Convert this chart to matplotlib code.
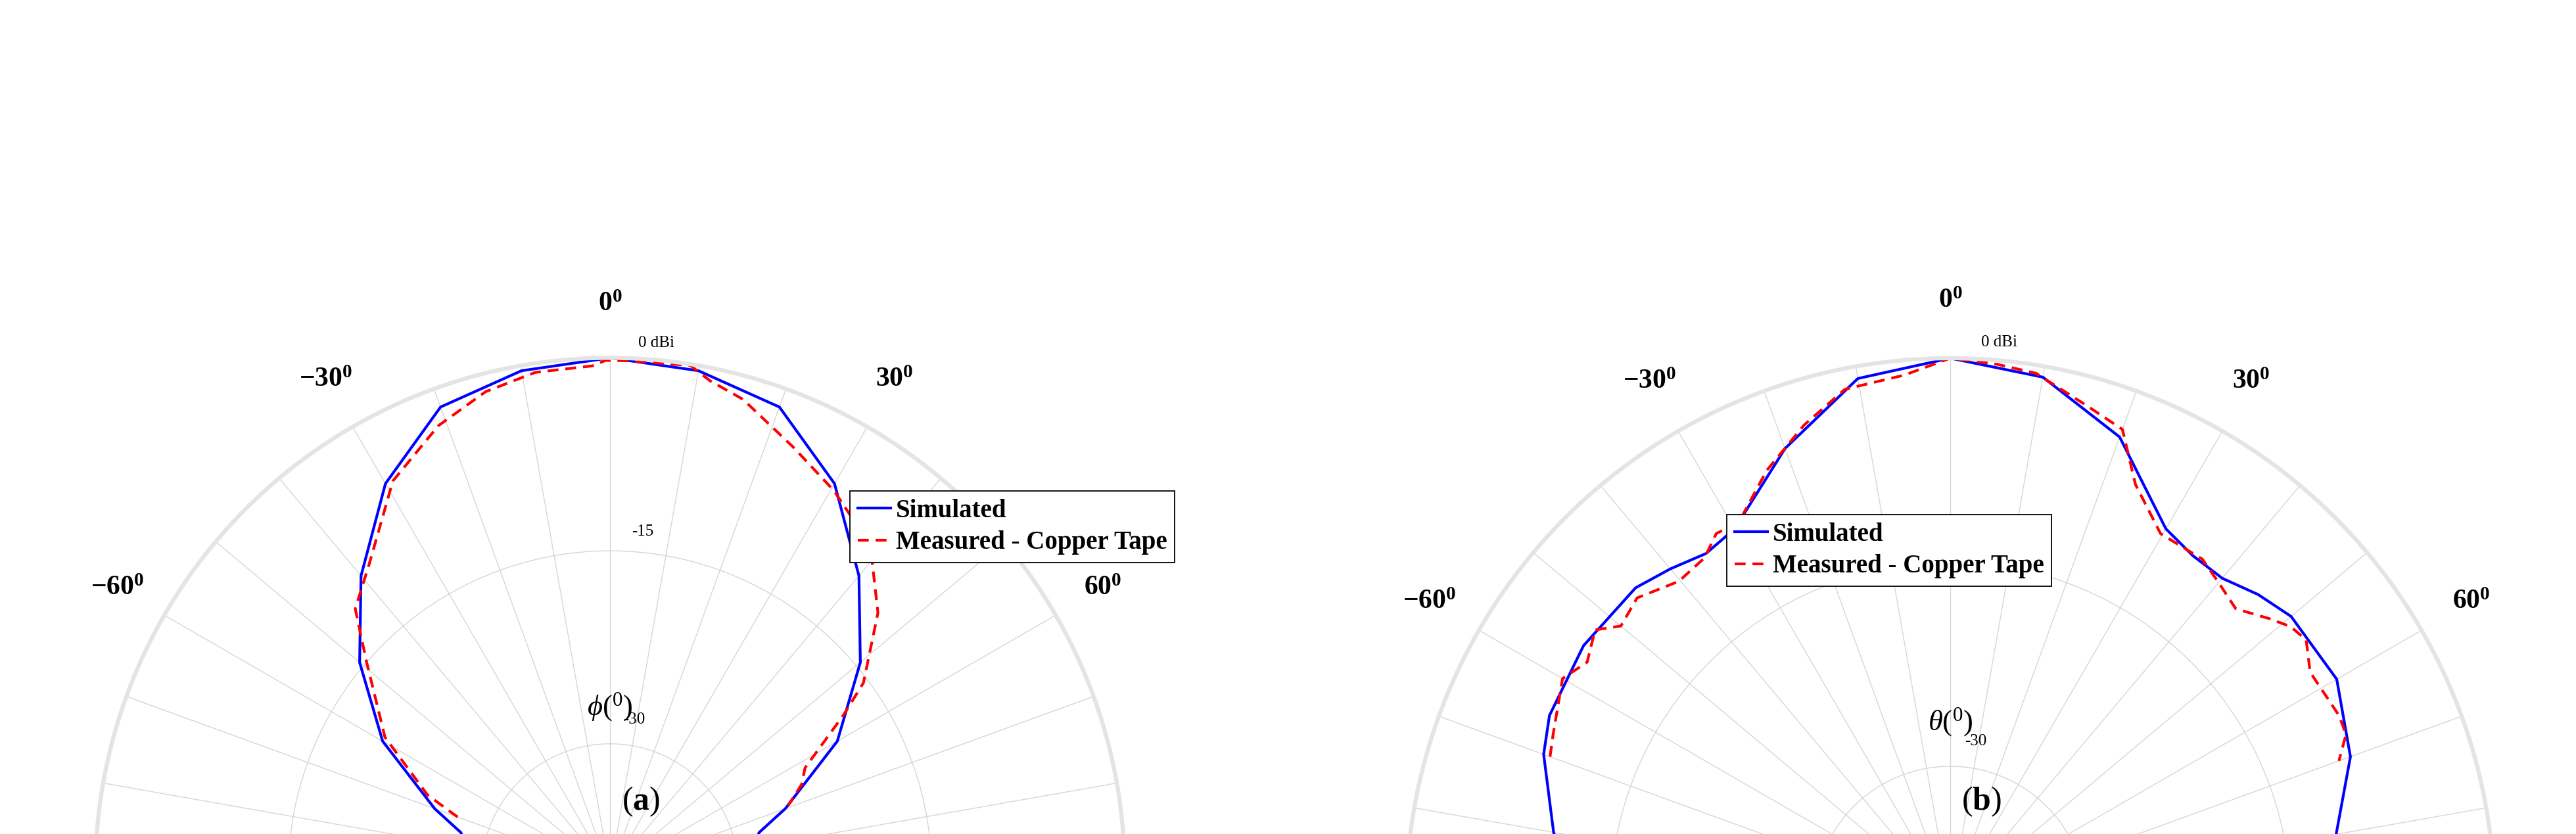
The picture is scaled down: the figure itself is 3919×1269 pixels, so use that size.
import numpy as np
import matplotlib
matplotlib.use("Agg")
import matplotlib.pyplot as plt

plt.rcParams['font.family'] = ['Liberation Serif', 'DejaVu Serif']
plt.rcParams['mathtext.fontset'] = 'custom'
plt.rcParams['mathtext.rm'] = 'Liberation Serif'
plt.rcParams['mathtext.it'] = 'Liberation Serif:italic'
plt.rcParams['mathtext.bf'] = 'Liberation Serif:bold'

# ---- Panel (a): phi cut ----
sim_a_ang = [-90, -85, -80, -75, -70, -60, -50, -40, -30, -20, -10, 0,
             10, 20, 30, 40, 50, 60, 70, 75, 80, 85, 90]
sim_a_db = [-25.9, -27.6, -28.7, -28.0, -25.5, -19.6, -14.6, -9.9, -5.1, -1.5, -0.4, 0.0,
            -0.4, -1.5, -5.1, -9.9, -14.6, -19.6, -25.5, -28.0, -28.7, -27.6, -25.9]
meas_a_ang = [-70, -67, -59, -49, -44, -38, -29, -21, -14.5, -8.5, -2, -0.5,
              2, 9, 11.5, 15.7, 23.3, 30.4, 34.2, 39.4, 45.9, 53.2, 56, 61.8, 65.3, 69.4]
meas_a_db = [-27.4, -24.6, -19.6, -14.9, -11.5, -9.6, -5.2, -2.8, -1.4, -0.7, -0.6, -0.2,
             -0.2, -0.1, -1.0, -1.8, -4.0, -5.6, -6.6, -8.0, -11.0, -15.4, -18.1, -22.8, -23.6, -25.2]

# ---- Panel (b): theta cut ----
sim_b_ang = [-90, -80, -70, -65, -55, -45, -40, -35, -30, -20, -10, 0,
             10, 20, 30, 35, 40, 45, 50, 60, 70, 80, 90]
sim_b_db = [-12.7, -10.4, -8.2, -7.5, -7.1, -7.3, -8.0, -8.7, -8.3, -4.5, -0.9, 0.0,
            -0.8, -3.6, -8.3, -8.9, -8.9, -8.0, -7.3, -7.2, -8.7, -11.2, -14.5]
meas_b_ang = [-70, -67, -60, -56.5, -52.5, -50, -45.8, -40.2, -35.5, -32.4, -29, -23, -17,
              -11.6, -5, 0, 5, 9.2, 15.2, 20, 23.9, 29.7, 36.3, 39.9, 44.2, 48.4,
              51, 53.6, 57.4, 64.3, 67, 70]
meas_b_db = [-8.7, -8.3, -7.1, -8.0, -7.1, -8.4, -7.9, -9.1, -8.9, -7.9, -8.0, -5.5, -3.3,
             -1.5, -1.1, 0.0, -0.3, -0.6, -2.1, -3.0, -6.4, -8.8, -8.7, -9.3, -9.9, -8.6,
             -7.8, -7.5, -8.6, -8.3, -8.4, -9.6]

angle_labels = [-90, -60, -30, 0, 30, 60, 90]
rgrid_vals = [-30, -15]
legend_labels = ['Simulated', 'Measured - Copper Tape']

W, H = 3919, 1269
fig = plt.figure(figsize=(W / 100, H / 100), dpi=100)


def make_panel(cx, cy, R, sa, sd, ma, md, xlabel, tag, leg_xy):
    ax = fig.add_axes([(cx - R) / W, (H - cy - R) / H, 2 * R / W, 2 * R / H], projection='polar')
    ax.set_theta_zero_location('N')
    ax.set_theta_direction(-1)
    ax.set_thetamin(-90)
    ax.set_thetamax(90)
    ax.set_rlim(-40, 0)
    ax.set_thetagrids(list(range(-90, 91, 10)), labels=[''] * 19)
    ax.set_rgrids(rgrid_vals, labels=['', ''])
    ax.grid(True, color='#d6d6d6', lw=1.0)
    for s in ax.spines.values():
        s.set_color('#e4e4e4')
        s.set_linewidth(4.5)
    ax.plot(np.deg2rad(sa), sd, color='#0000ff', lw=3, label=legend_labels[0])
    ax.plot(np.deg2rad(ma), md, color='#ff0000', lw=3, ls=(0, (4, 2.5)), label=legend_labels[1])
    for a in angle_labels:
        ax.text(np.deg2rad(a), 4.2, r'$\mathbf{%d^{0}}$' % a, ha='center', va='center',
                fontsize=30, clip_on=False)
    ax.text(np.deg2rad(5), 1.3, '0 dBi', ha='center', va='center', fontsize=18, clip_on=False)
    ax.text(np.deg2rad(5.5), -13.4, '-15', ha='center', va='center', fontsize=18)
    ax.text(np.deg2rad(9), -28.0, '-30', ha='center', va='center', fontsize=18)
    leg = ax.legend(loc='upper left', bbox_to_anchor=leg_xy, bbox_transform=fig.transFigure,
                    borderaxespad=0, fancybox=False, framealpha=1, edgecolor='black',
                    prop={'family': 'Liberation Serif', 'weight': 'bold', 'size': 28},
                    handlelength=1.3, handletextpad=0.2, borderpad=0.3, labelspacing=0.3)
    leg.get_frame().set_linewidth(1.3)
    fig.text(cx / W, 1 - (cy + 140) / H, xlabel, ha='center', va='center', fontsize=32)
    fig.text(cx / W + 0.012, 1 - 1220 / H, tag, ha='center', va='center', fontsize=36)
    return ax


make_panel(928, 936, 783, sim_a_ang, sim_a_db, meas_a_ang, meas_a_db,
           r'$\it{\phi}$($^{0}$)', '($\\mathbf{a}$)', (1293 / W, 1 - 747 / H))
make_panel(2967, 959, 828, sim_b_ang, sim_b_db, meas_b_ang, meas_b_db,
           r'$\it{\theta}$($^{0}$)', '($\\mathbf{b}$)', (2627 / W, 1 - 783 / H))

fig.savefig('out.png', dpi=100, facecolor='white')
